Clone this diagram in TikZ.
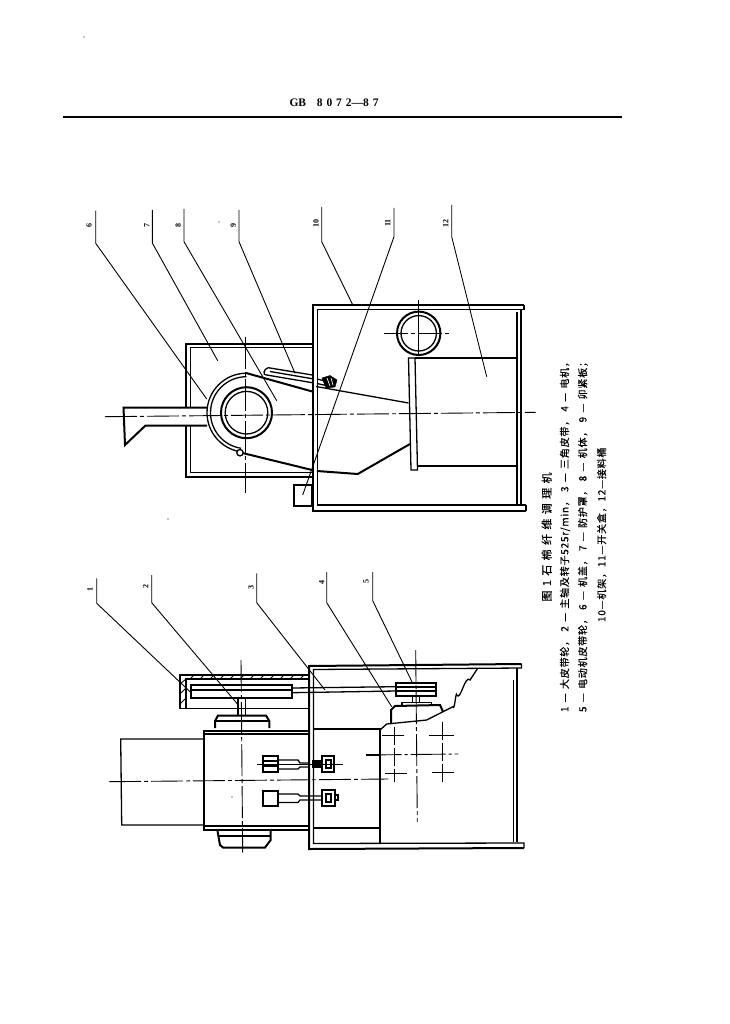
\documentclass[tikz,border=0pt]{standalone}
\usepackage{fontspec}
\setmainfont{Liberation Serif}
\newfontfamily\cjkfont[LetterSpace=8,FakeBold=0.5]{Noto Sans CJK SC}
\tikzset{
    wall/.style={line width=2pt},
    part/.style={line width=1.3pt},
    leader/.style={line width=0.9pt},
    cline/.style={line width=0.9pt,dash pattern=on 32pt off 3pt on 4pt off 3pt},
    numlabel/.style={rotate=90,inner sep=0pt,font=\bfseries\fontsize{8}{8}\selectfont},
    captionline/.style={rotate=90,inner sep=0pt,anchor=center,font=\cjkfont\fontsize{10}{10}\selectfont}
}
\begin{document}
\begin{tikzpicture}[x=1pt,y=-1pt]
    \useasboundingbox (0,0) rectangle (729,1024);
    %% header
    \node[inner sep=0pt,font=\bfseries\fontsize{11.5}{12}\selectfont] (header) at (334,103) {\makebox[89pt][s]{GB \hspace{3pt} 8 0 7 2---8 7}};
    \draw[line width=2pt] (63,117) -- (622,117);
    %% specks
    \foreach \spotx/\spoty in {84/37,168/519,232/797,219/222}
        \fill (\spotx,\spoty) circle (0.6);

    %% upper view: cover
    \draw[wall] (312,344) -- (185.5,344) -- (185.5,476.5) -- (312,476.5);
    \draw[part] (312,347.5) -- (190.5,347.5) -- (190.5,472.5) -- (312,472.5);
    %% duct
    \draw[wall,fill=white] (207,407.5) -- (123.5,407.5) -- (125,445) -- (145.5,425.5) -- (207,425.5);
    %% rings
    \draw[part] (246.5,373.2) arc[start angle=270,end angle=99,radius=39.5];
    \draw[part] (246.5,376.7) arc[start angle=270,end angle=99,radius=36];
    \draw[wall] (246.5,412.7) circle (25.5);
    \draw[part] (246.5,412.7) circle (21.3);
    %% body
    \draw[wall] (246,373) -- (312.3,391.5);
    \draw[part] (316,386.5) -- (408.5,403);
    \draw[wall] (243.3,453.2) -- (312,470) (317,471) -- (357.7,474) -- (410,444);
    \draw[part,fill=white] (240,452.7) circle (3.2);
    %% clamp
    \draw[part] (312.3,375) -- (268.3,367.7) to[out=190,in=190,looseness=1.6] (266.7,375) -- (312.3,382.7);
    \draw[part] (270,371.5) -- (312.3,378.7);
    \draw[part] (317,379) -- (323,380.5) (317,383.5) -- (326,385.5);
    \draw[fill=black] (322,378) -- (330,375.5) -- (337,380) -- (335,387) -- (326,388) -- cycle;
    \draw[white,line width=0.7pt] (327,378) -- (330,386) (331,378) -- (333,385);
    %% frame
    \draw[wall,fill=white] (293.5,485) rectangle (312.3,506);
    \draw[wall] (524,305) -- (312.5,305) -- (312.5,510.5) -- (526,510.5);
    \draw[part] (524,309.5) -- (317.5,309.5) -- (317.5,505) -- (526,505);
    \draw[part] (524,305) -- (524,309.5) (526,505) -- (526,510.5);
    \draw[wall] (521,310) -- (521,505);
    \draw[part] (517,312) -- (517,505);
    %% roller
    \draw[wall] (418.7,333.3) circle (21.7);
    \draw[part] (418.7,333.3) circle (17.7);
    \draw[cline,dash pattern=on 24pt off 3pt on 4pt off 3pt] (384,333) -- (449,333);
    \draw[leader] (418.7,300) -- (418.7,356);
    %% bin
    \draw[part,fill=white] (408.5,358) -- (415,358) -- (417.5,470) -- (411,470) -- cycle;
    \draw[part] (415,358) -- (517,358);
    \draw[part] (417.5,466) -- (517,466);
    %% centre lines
    \draw[cline] (105,416.7) -- (535.7,412.3);
    \draw[cline] (245.7,336.7) -- (245.7,493.3);
    %% labels
    \node[numlabel] (num6) at (89,225) {6};
    \node[numlabel] (num7) at (146.7,225) {7};
    \node[numlabel] (num8) at (178.3,225) {8};
    \node[numlabel] (num9) at (233.3,225.7) {9};
    \node[numlabel] (num10) at (316,223) {10};
    \node[numlabel] (num11) at (387.7,223) {11};
    \node[numlabel] (num12) at (445.7,223) {12};
    \draw[leader] (95.7,210.7) -- (95.7,243.3) -- (206.7,399);
    \draw[leader] (152.3,210) -- (152.3,243) -- (217.7,360.7);
    \draw[leader] (184,209) -- (184,241.7) -- (276.7,400.7);
    \draw[leader] (239,210) -- (239,241.7) -- (295,373.3);
    \draw[leader] (321.7,207) -- (321.7,241.7) -- (353.3,306);
    \draw[leader] (394,208) -- (394,236.7) -- (302.7,495);
    \draw[leader] (451.7,205) -- (451.7,236.7) -- (486.7,376.7);

    %% lower view: belt cover
    \draw[part] (310,675) -- (180,675) -- (180,708.3) -- (310,708.3);
    \draw[part] (310,679) -- (186,679) -- (186,708.3);
    \draw[leader] (180,684) -- (186,679) (180,694) -- (186,688) (180,704) -- (186,698);
    \foreach \hatchx in {190,200,...,300}
        \draw[leader] (\hatchx,679) -- (\hatchx+4,675);
    %% pulleys and belt
    \draw[wall,fill=white] (191,685) rectangle (291.7,697.7);
    \draw[part] (191,690) -- (291.7,690);
    \draw[part] (291.7,688) -- (396,686.7) (291.7,692.7) -- (396,691);
    \draw[wall,fill=white] (396,683.3) rectangle (436,696);
    \draw[part] (396,687) -- (436,687) (396,691) -- (436,691);
    %% drive shafts
    \draw[part] (238,697.7) -- (238,715) (245.7,697.7) -- (245.7,715);
    \draw[part] (412.7,696) -- (412.7,703) (419.3,696) -- (419.3,703);
    %% motor caps
    \draw[wall] (215,728) -- (215,721) -- (218,715.5) -- (266,715.5) -- (269.3,721) -- (269.3,728);
    \draw[part] (215,721) -- (269.3,721);
    \draw[wall] (217.5,831) -- (220,845) -- (223,847.5) -- (265,847.5) -- (270.7,840) -- (270.7,831);
    \draw[part] (218,836) -- (270.7,836);
    %% main body
    \draw[wall] (310,731) -- (204,731) -- (204,830) -- (310,830);
    \draw[part] (204,734) -- (310,734) (204,826) -- (310,826);
    \draw[part] (204,739) -- (120.7,739) -- (121.7,825) -- (204,825);
    %% knobs
    \draw[wall] (263.3,756) rectangle (278.3,771.7);
    \draw[part] (263.3,761) -- (278.3,761) (263.3,766) -- (278.3,766);
    \draw[part] (278.3,760) -- (298,760) -- (300,763) -- (308,763) (278.3,769) -- (298,769) -- (300,767) -- (308,767);
    \draw[wall,fill=black] (313,761) rectangle (322,767);
    \draw[wall] (322,756) rectangle (334,771.7);
    \draw[part] (326,760) rectangle (331,768);
    \draw[leader] (256.7,764) -- (342.7,764);
    \draw[wall] (263.3,791) rectangle (278,805.7);
    \draw[part] (278,794) -- (298,794) -- (300,796) -- (322,796) (278,802.5) -- (298,802.5) -- (300,800) -- (322,800);
    \draw[wall] (322,790) rectangle (335,805.7);
    \draw[part] (326,794) rectangle (331,802) (335,795) -- (338,795) -- (338,800) -- (335,800);
    %% frame
    \draw[wall] (521.5,664) -- (309,666) -- (309,849) -- (524,848);
    \draw[part] (521.5,664) -- (521.5,668) -- (313.5,669.5) -- (313.5,843.5) -- (524,843) -- (524,848);
    \draw[wall] (516.5,668) -- (516.5,842);
    \draw[part] (513.5,680) -- (513.5,842);
    %% motor box
    \draw[part] (313.5,729) -- (380,729) -- (380,843);
    \draw[part] (313.5,828) -- (380,828);
    \draw[part] (366,755) -- (380,755);
    %% motor and break line
    \draw[wall] (391,724) -- (391,710) -- (395,706) -- (440,705) -- (443,711.7);
    \draw[part] (402,706) -- (402,702.5) -- (431.7,702.5) -- (431.7,705);
    \draw[part] (380,730) -- (386.7,724) -- (426.7,720) -- (443,711.7) -- (453,706.7) to[out=-70,in=100] (456.7,695) to[out=-60,in=130] (470,680) -- (477.7,668.3);
    %% centre lines
    \draw[cline] (109,781.7) -- (388.3,779);
    \draw[cline] (241,660) -- (242.7,852.7);
    \draw[cline] (415.7,650) -- (417.3,821.7);
    \draw[cline,dash pattern=on 35pt off 3pt on 3pt off 3pt] (366.7,755) -- (458.3,754);
    \draw[leader] (382,735) -- (404,735) (385,773.3) -- (406.7,773.3);
    \draw[leader] (429,735) -- (454,735) (431.7,772.7) -- (454.3,772.7);
    \draw[cline,dash pattern=on 18pt off 3pt] (394.3,727) -- (394.3,782);
    \draw[cline,dash pattern=on 18pt off 3pt] (442.3,721.7) -- (442.3,783.3);
    %% labels
    \node[numlabel] (num1) at (90,589) {1};
    \node[numlabel] (num2) at (145.7,586.7) {2};
    \node[numlabel] (num3) at (251,587.7) {3};
    \node[numlabel] (num4) at (321.7,582.7) {4};
    \node[numlabel] (num5) at (366,581.7) {5};
    \draw[leader] (96.7,578.3) -- (96.7,603.3) -- (190,691.7);
    \draw[leader] (151.7,575) -- (151.7,602.7) -- (238.3,705);
    \draw[leader] (256.7,573.3) -- (256.7,602.7) -- (325,690);
    \draw[leader] (326.7,572) -- (326.7,602.7) -- (391.7,706.7);
    \draw[leader] (372.7,572) -- (372.7,600.7) -- (412.7,683.3);

    %% caption
    \node[captionline,font=\cjkfont\fontsize{11}{11}\selectfont] (title) at (546.7,537) {\makebox[129pt][s]{图 1 石 棉 纤 维 调 理 机}};
    \node[captionline] (line1) at (565,534.5) {\makebox[355pt][s]{1 — 大皮带轮， 2 — 主轴及转子525r/min， 3 — 三角皮带， 4 — 电机，}};
    \node[captionline] (line2) at (583,534.5) {\makebox[355pt][s]{5 — 电动机皮带轮， 6 — 机盖， 7 — 防护罩， 8 — 机体， 9 — 卯紧板；}};
    \node[captionline] (line3) at (601.7,539.5) {\makebox[165pt][s]{10—机架，11—开关盒，12—接料桶}};
\end{tikzpicture}
\end{document}
